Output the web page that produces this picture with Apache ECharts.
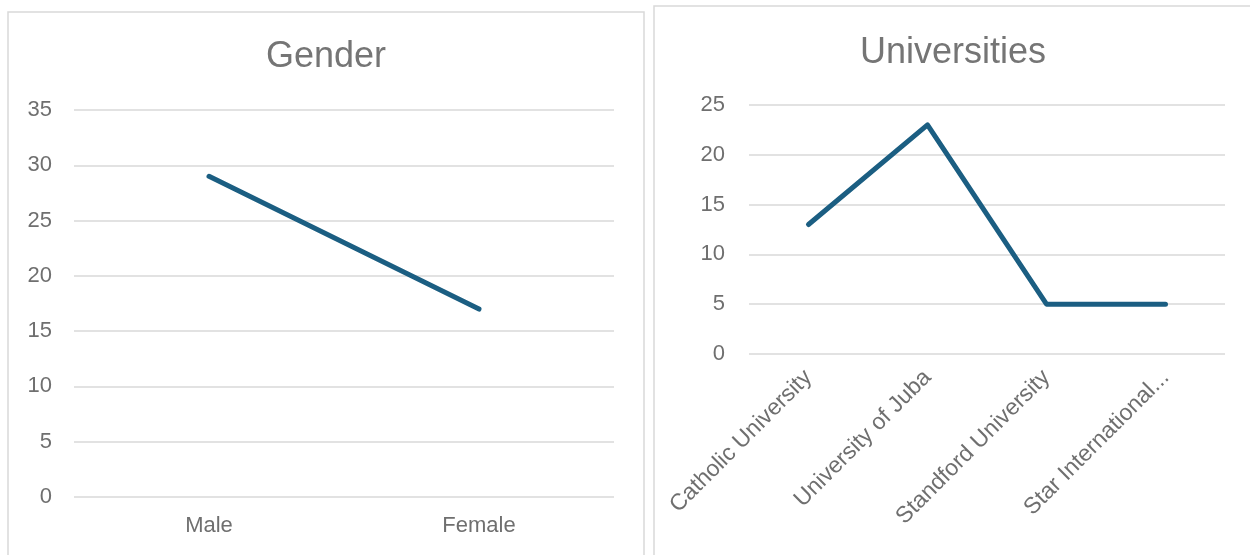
<!DOCTYPE html>
<html>
<head>
<meta charset="utf-8">
<script src="https://cdn.jsdelivr.net/npm/echarts@6/dist/echarts.min.js"></script>
<style>
  html, body { margin: 0; padding: 0; background: #fff; }
  #chart { width: 1250px; height: 555px; }
</style>
</head>
<body>
<div id="chart"></div>
<script>
// 数据
const genderCategories = ['Male', 'Female'];
const genderValues = [29, 17];
const uniCategories = ['Catholic University', 'University of Juba', 'Standford University', 'Star International...'];
const uniValues = [13, 23, 5, 5];

const lineColor = '#1b5e82';
const textColor = '#6f6f6f';
const gridColor = '#d9d9d9';
const fontFamily = '"Liberation Sans", Arial, sans-serif';

function valueAxis(gridIndex, max, margin) {
    return {
        type: 'value',
        gridIndex: gridIndex,
        min: 0,
        max: max,
        interval: 5,
        axisLine: { show: false },
        axisTick: { show: false },
        axisLabel: { color: textColor, fontSize: 22, fontFamily: fontFamily, margin: margin },
        splitLine: { lineStyle: { color: gridColor, width: 1.5 } }
    };
}

const chart = echarts.init(document.getElementById('chart'));

const option = {
    animation: false,
    graphic: [
        {
            type: 'rect',
            shape: { x: 8, y: 12, width: 636, height: 560 },
            style: { fill: 'none', stroke: '#d9d9d9', lineWidth: 1.5 }
        },
        {
            type: 'rect',
            shape: { x: 654, y: 6, width: 610, height: 560 },
            style: { fill: 'none', stroke: '#d9d9d9', lineWidth: 1.5 }
        }
    ],
    title: [
        {
            text: 'Gender',
            left: 321,
            top: 34,
            textAlign: 'center',
            textStyle: { color: '#757575', fontSize: 36, fontWeight: 'normal', fontFamily: fontFamily }
        },
        {
            text: 'Universities',
            left: 948,
            top: 30,
            textAlign: 'center',
            textStyle: { color: '#757575', fontSize: 36, fontWeight: 'normal', fontFamily: fontFamily }
        }
    ],
    grid: [
        { left: 74, right: 636, top: 110, bottom: 58 },
        { left: 749, right: 25, top: 105, bottom: 201 }
    ],
    xAxis: [
        {
            type: 'category',
            gridIndex: 0,
            data: genderCategories,
            axisLine: { show: false },
            axisTick: { show: false },
            axisLabel: { color: textColor, fontSize: 22, fontFamily: fontFamily, margin: 18 }
        },
        {
            type: 'category',
            gridIndex: 1,
            data: uniCategories,
            axisLine: { show: false },
            axisTick: { show: false },
            axisLabel: { color: textColor, fontSize: 23, fontFamily: fontFamily, margin: 20, rotate: 45, interval: 0 }
        }
    ],
    yAxis: [
        valueAxis(0, 35, 22),
        valueAxis(1, 25, 24)
    ],
    series: [
        {
            type: 'line',
            xAxisIndex: 0,
            yAxisIndex: 0,
            data: genderValues,
            symbol: 'none',
            lineStyle: { color: lineColor, width: 5, cap: 'round', join: 'round' }
        },
        {
            type: 'line',
            xAxisIndex: 1,
            yAxisIndex: 1,
            data: uniValues,
            symbol: 'none',
            lineStyle: { color: lineColor, width: 5, cap: 'round', join: 'round' }
        }
    ]
};

chart.setOption(option);
</script>
</body>
</html>
